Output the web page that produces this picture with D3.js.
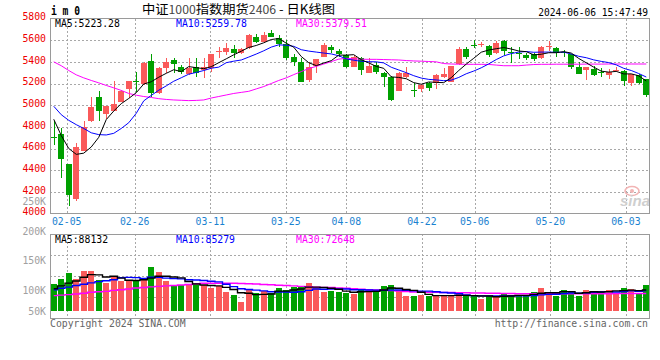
<!DOCTYPE html>
<html><head><meta charset="utf-8">
<script src="https://cdn.jsdelivr.net/npm/d3@7/dist/d3.min.js"></script>
<style>
html,body{margin:0;padding:0;background:#fff;}
svg{display:block;}
</style></head><body>
<svg id="c" width="660" height="360"></svg>
<script>
const dates = ["02-01","02-02","02-05","02-06","02-07","02-08","02-19","02-20","02-21","02-22","02-23","02-26","02-27","02-28","02-29",
"03-01","03-04","03-05","03-06","03-07","03-08","03-11","03-12","03-13","03-14","03-15","03-18","03-19","03-20","03-21","03-22","03-25","03-26","03-27","03-28","03-29",
"04-01","04-02","04-03","04-08","04-09","04-10","04-11","04-12","04-15","04-16","04-17","04-18","04-19","04-22","04-23","04-24","04-25","04-26","04-29","04-30",
"05-06","05-07","05-08","05-09","05-10","05-13","05-14","05-15","05-16","05-17","05-20","05-21","05-22","05-23","05-24","05-27","05-28","05-29","05-30","05-31",
"06-03","06-04","06-05","06-06"];

const open  = [4705,4737,4457,4131,4580,4850,5078,4918,4950,5032, 5150,5222,5193,5408,5110,5340,5417,5355,5285,5355,
 5324,5340,5490,5494,5518,5479,5525,5632,5586,5663, 5623,5565,5448,5401,5232,5362,5448,5540,5502,5463,
 5355,5433,5300,5371,5300,5257,5134,5263,5140,5149, 5202,5202,5257,5217,5380,5518,5558,5555,5546,5479,
 5592,5488,5482,5463,5472,5432,5542,5525,5490,5470, 5355,5324,5331,5302,5279,5320,5318,5208,5279,5239];
const high  = [4850,4786,4460,4654,4850,5078,5130,4995,5225,5140, 5225,5310,5395,5475,5350,5433,5438,5370,5433,5433,
 5433,5475,5540,5571,5557,5530,5655,5654,5672,5694, 5648,5600,5470,5433,5401,5430,5571,5555,5520,5470,
 5460,5440,5433,5400,5310,5265,5305,5355,5202,5200, 5217,5285,5340,5365,5540,5540,5602,5586,5555,5595,
 5600,5534,5540,5480,5480,5545,5595,5540,5510,5475, 5401,5355,5362,5346,5330,5355,5325,5290,5290,5245];
const low   = [4630,4330,4069,4120,4575,4845,4857,4875,4945,5025, 5070,5125,5185,5078,5105,5294,5294,5285,5279,5263,
 5250,5310,5433,5463,5438,5470,5520,5571,5571,5625, 5540,5417,5362,5215,5215,5300,5440,5478,5440,5345,
 5350,5280,5295,5290,5170,5040,5130,5248,5078,5120, 5134,5146,5250,5215,5375,5426,5525,5535,5448,5470,
 5463,5392,5430,5420,5410,5428,5502,5448,5448,5330, 5285,5232,5270,5257,5240,5305,5177,5177,5200,5072];
const close = [4700,4503,4171,4614,4798,4982,4950,4992,5010,5134, 5223,5215,5392,5115,5346,5401,5380,5309,5346,5294,
 5355,5470,5497,5525,5479,5518,5648,5586,5648,5632, 5562,5437,5401,5217,5350,5424,5555,5510,5472,5350,
 5442,5325,5362,5309,5263,5048,5300,5300,5130,5186, 5155,5279,5288,5362,5516,5448,5552,5565,5463,5577,
 5502,5482,5478,5432,5424,5534,5550,5479,5485,5355, 5288,5350,5279,5298,5309,5326,5226,5285,5208,5094];

const ma5  = [4870,4720,4600,4546,4557,4614,4703,4867,4946,5014, 5062,5115,5195,5216,5258,5294,5327,5310,5356,5346,
 5337,5355,5392,5428,5465,5498,5533,5551,5576,5606, 5615,5572,5535,5449,5392,5365,5389,5411,5462,5462,
 5466,5420,5390,5358,5340,5261,5256,5244,5208,5193, 5214,5210,5208,5254,5320,5379,5433,5489,5509,5521,
 5532,5518,5500,5494,5464,5470,5484,5484,5494,5481, 5431,5391,5351,5314,5305,5312,5288,5289,5271,5223];
const ma10 = [4990,4912,4860,4820,4785,4745,4728,4725,4740,4785, 4838,4925,5040,5090,5138,5178,5221,5253,5286,5302,
 5320,5341,5351,5392,5406,5417,5444,5472,5502,5536, 5557,5553,5543,5512,5499,5490,5481,5473,5456,5427,
 5415,5405,5401,5400,5390,5350,5325,5300,5272,5250, 5238,5233,5226,5231,5256,5290,5315,5345,5381,5421,
 5455,5476,5490,5495,5488,5490,5490,5488,5490,5472, 5451,5438,5418,5404,5393,5372,5340,5320,5292,5260];
const ma30 = [5400,5364,5320,5280,5252,5228,5206,5182,5160,5136, 5108,5092,5080,5071,5060,5053,5048,5045,5042,5044,
 5048,5066,5080,5094,5108,5118,5128,5150,5172,5200, 5228,5252,5282,5310,5338,5358,5380,5402,5425,5432,
 5428,5424,5423,5423,5421,5419,5417,5412,5408,5406, 5403,5400,5384,5380,5378,5377,5377,5377,5376,5370,
 5364,5364,5364,5370,5375,5377,5377,5378,5378,5378, 5378,5379,5379,5379,5380,5380,5380,5380,5380,5380];

const volume = [113000,134000,159000,134000,168000,168000,129000,117000,149000,127000, 124000,124000,131000,185000,164000,127000,110000,110000,110000,110000,
 107000,96000,103000,79000,65000,36000,86000,75000,82000,75000, 96000,88000,100000,100000,117000,96000,79000,85000,79000,75000,
 71000,91000,89000,86000,104000,109000,89000,63000,63000,68000, 63000,63000,63000,63000,74000,61000,61000,51000,61000,61000,
 71000,68000,63000,63000,79000,96000,79000,61000,89000,79000, 63000,89000,79000,85000,88000,77000,96000,91000,71000,109000];
const volMa5  = [93,105,117,126,142,153,152,143,146,138, 129,128,131,138,146,146,143,139,124,113,
 109,107,105,99,90,76,74,68,69,71, 83,83,88,92,100,100,98,95,91,83,
 78,80,81,82,88,96,95,90,86,78, 69,64,64,64,65,65,64,62,62,59,
 61,62,65,65,69,74,76,76,81,81, 74,76,80,79,81,84,85,87,85,88];
const volMa10 = [89,95,100,107,112,118,123,127,131,140, 141,140,137,142,142,138,136,135,131,130,
 128,125,122,112,102,93,90,87,84,80, 79,79,78,80,86,92,91,92,92,92,
 89,89,88,87,86,87,88,86,84,83, 83,80,77,75,72,67,64,63,63,62,
 63,63,63,63,64,67,69,70,73,75, 74,76,78,80,81,79,81,84,82,85];
const volMa30 = [64,66,68,71,74,78,80,82,86,89, 92,96,98,101,103,105,107,109,111,114,
 116,116,116,116,116,115,114,113,111,110, 108,107,105,103,102,100,99,98,96,95,
 93,91,89,88,87,85,83,81,79,79, 78,78,77,77,76,76,75,75,74,74,
 73,73,72,72,72,72,72,72,72,72, 72,72,72,72,72,73,73,73,73,73];

const priceTicks = [4000,4200,4400,4600,4800,5000,5200,5400,5600,5800];
const volTickValues = [250000,200000,150000,100000,50000];
const volTickLabels = ["250K","200K","150K","100K","50K"];
const dateTicks = ["02-05","02-26","03-11","03-25","04-08","04-22","05-06","05-20","06-03"];
const legendMain = ["MA5:5223.28","MA10:5259.78","MA30:5379.51"];
const legendVol = ["MA5:88132","MA10:85279","MA30:72648"];
const legendColors = ["#000000","#0000ff","#ff00ff"];

const UP = "#fa5a5a", DOWN = "#00a000";
const MONO = "'DejaVu Sans Mono', monospace";

const svg = d3.select("#c");
const L = 50, R = 650, mT = 18.5, mB = 213.5, vT = 234, vB = 318, vBase = 310.7;

const n = dates.length;
const x = d3.scaleBand().domain(d3.range(n)).range([L, R]);
const cx = i => x(i) + x.bandwidth() / 2;
const gx = d3.scaleLinear().domain([0, n - 1]).range([51.6, 648.6]);
const y = d3.scaleLinear().domain([4000, 5800]).range([mB, mT]);
const yv = d3.scaleLinear().domain([0, 325000]).range([vBase, vT]);
const yvLab = d3.scaleLinear().domain([100000, 200000]).range([290.7, 231]);

const defs = svg.append("defs");
defs.append("clipPath").attr("id","mclip").append("rect").attr("x",L).attr("y",mT).attr("width",R-L).attr("height",mB-mT);
defs.append("clipPath").attr("id","vclip").append("rect").attr("x",L).attr("y",vT).attr("width",R-L).attr("height",vB-vT);

const crisp = v => Math.round(v) + 0.5;
const grid = svg.append("g").attr("stroke","#a8a8a8").attr("stroke-dasharray","2,2").attr("shape-rendering","crispEdges");

grid.selectAll(".hm").data(priceTicks.filter(v => v > 4000 && v < 5800)).enter().append("line")
  .attr("x1", L).attr("x2", R).attr("y1", d => crisp(y(d))).attr("y2", d => crisp(y(d)));
grid.selectAll(".hv").data([1,2,3]).enter().append("line")
  .attr("x1", L).attr("x2", R)
  .attr("y1", k => crisp(vT + (vB - vT) * k / 4)).attr("y2", k => crisp(vT + (vB - vT) * k / 4));
const tickIdx = dateTicks.map(t => dates.indexOf(t));
grid.selectAll(".vm").data(tickIdx).enter().append("line")
  .attr("x1", i => crisp(gx(i))).attr("x2", i => crisp(gx(i))).attr("y1", mT).attr("y2", mB);
grid.selectAll(".vv").data(tickIdx).enter().append("line")
  .attr("x1", i => crisp(gx(i))).attr("x2", i => crisp(gx(i))).attr("y1", vT).attr("y2", vB);

// sina watermark
const wm = svg.append("g");
wm.append("ellipse").attr("cx", 632).attr("cy", 191).attr("rx", 7).attr("ry", 4.5)
  .attr("fill","none").attr("stroke","#f2b4b4").attr("stroke-width",1.6);
wm.append("circle").attr("cx", 632).attr("cy", 191).attr("r", 2).attr("fill","#f2b4b4");
wm.append("text").attr("x", 620).attr("y", 206).attr("font-family","'Liberation Sans', Arial, sans-serif")
  .attr("font-size", 15).attr("font-weight","bold").attr("font-style","italic")
  .attr("fill","#cfcfcf").text("sina");

// candles
const candles = svg.append("g").attr("clip-path","url(#mclip)").attr("shape-rendering","crispEdges");
const idx = d3.range(n);
const col = i => close[i] >= open[i] ? UP : DOWN;
const bx = i => Math.round(cx(i) - 3);
candles.selectAll(".wick").data(idx).enter().append("rect")
  .attr("x", i => bx(i) + 3).attr("width", 1)
  .attr("y", i => Math.round(y(high[i]))).attr("height", i => Math.max(1, Math.round(y(low[i])) - Math.round(y(high[i]))))
  .attr("fill", col);
candles.selectAll(".body").data(idx).enter().append("rect")
  .attr("x", bx).attr("width", 6)
  .attr("y", i => Math.round(y(Math.max(open[i], close[i]))))
  .attr("height", i => Math.max(1, Math.round(y(Math.min(open[i], close[i]))) - Math.round(y(Math.max(open[i], close[i])))))
  .attr("fill", col);

const lineM = d3.line().x((d, i) => cx(i)).y(d => y(d));
const maG = svg.append("g").attr("clip-path","url(#mclip)").attr("fill","none").attr("stroke-width",1);
[[ma30,"#ff00ff"],[ma10,"#0000ff"],[ma5,"#000000"]].forEach(([arr,c]) => {
  maG.append("path").attr("d", lineM(arr)).attr("stroke", c);
});

// volume
const vg = svg.append("g").attr("clip-path","url(#vclip)").attr("shape-rendering","crispEdges");
vg.selectAll(".vb").data(idx).enter().append("rect")
  .attr("x", bx).attr("width", 6)
  .attr("y", i => Math.round(yv(volume[i])))
  .attr("height", i => Math.round(vBase) - Math.round(yv(volume[i])))
  .attr("fill", col);
const lineV = d3.line().x((d, i) => cx(i)).y(d => yv(d * 1000)).curve(d3.curveStep);
const vmaG = svg.append("g").attr("clip-path","url(#vclip)").attr("fill","none").attr("stroke-width",1.4);
[[volMa30,"#ff00ff"],[volMa10,"#0000ff"],[volMa5,"#000000"]].forEach(([arr,c]) => {
  vmaG.append("path").attr("d", lineV(arr)).attr("stroke", c);
});

// borders
const bd = svg.append("g").attr("fill","none").attr("stroke","#9a9a9a").attr("shape-rendering","crispEdges");
bd.append("rect").attr("x", L + 0.5).attr("y", mT).attr("width", R - L - 1).attr("height", mB - mT);
bd.append("rect").attr("x", L + 0.5).attr("y", vT + 0.5).attr("width", R - L - 1).attr("height", vB - vT);

// price labels
svg.append("g").selectAll("text").data(priceTicks).enter().append("text")
  .attr("x", 46).attr("y", d => y(d) + 1.8).attr("text-anchor","end")
  .attr("font-family", MONO).attr("font-size", 9.8).attr("fill", "#ee0000")
  .text(d => d);

// volume labels
svg.append("g").selectAll("text").data(volTickValues).enter().append("text")
  .attr("x", 46).attr("y", d => Math.min(yvLab(d), 311) + 3.6).attr("text-anchor","end")
  .attr("font-family", MONO).attr("font-size", 9.8).attr("fill", "#a0a0a0")
  .text((d, i) => volTickLabels[i]);

// date labels
svg.append("g").selectAll("text").data(dateTicks).enter().append("text")
  .attr("x", t => gx(dates.indexOf(t))).attr("y", 224.5).attr("text-anchor","middle")
  .attr("font-family", MONO).attr("font-size", 9.8).attr("fill", "#1a82d0")
  .text(t => t);

// legends
const legX = [55, 176, 296];
svg.append("g").selectAll("text").data(legendMain).enter().append("text")
  .attr("x", (d, i) => legX[i]).attr("y", 27.4).attr("font-family", MONO).attr("font-size", 9.8)
  .attr("fill", (d, i) => legendColors[i]).text(d => d);
svg.append("g").selectAll("text").data(legendVol).enter().append("text")
  .attr("x", (d, i) => legX[i]).attr("y", 242.5).attr("font-family", MONO).attr("font-size", 9.8)
  .attr("fill", (d, i) => legendColors[i]).text(d => d);

// header
svg.append("text").attr("x", 51).attr("y", 15).attr("font-family", MONO).attr("font-size", 11.5)
  .attr("font-weight","bold").attr("fill","#000")
  .attr("textLength", 29).attr("lengthAdjust","spacingAndGlyphs").text("i m 0");
const title = svg.append("text").attr("x", 142).attr("y", 14.3)
  .attr("font-family","'Noto Sans CJK SC', sans-serif").attr("font-size", 12.5).attr("fill","#000")
  .attr("textLength", 193).attr("lengthAdjust","spacingAndGlyphs");
title.append("tspan").text("中证");
title.append("tspan").attr("fill","#444").attr("font-size",11.5).text("1000");
title.append("tspan").text("指数期货");
title.append("tspan").attr("fill","#444").attr("font-size",11.5).text("2406");
title.append("tspan").text(" - 日K线图");
svg.append("text").attr("x", 648).attr("y", 15.5).attr("text-anchor","end")
  .attr("font-family", MONO).attr("font-size", 9.6).attr("fill","#000").text("2024-06-06 15:47:49");

// footer
svg.append("text").attr("x", 50).attr("y", 327).attr("font-family", MONO).attr("font-size", 9.8)
  .attr("fill","#666").text("Copyright 2024 SINA.COM");
svg.append("text").attr("x", 648).attr("y", 327).attr("text-anchor","end").attr("font-family", MONO).attr("font-size", 9.8)
  .attr("fill","#666").text("http://finance.sina.com.cn");
</script>
</body></html>
